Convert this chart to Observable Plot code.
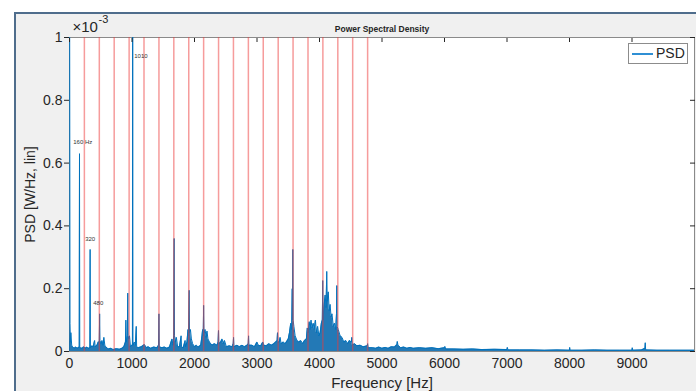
<!DOCTYPE html>
<html><head><meta charset="utf-8">
<script src="https://cdn.jsdelivr.net/npm/d3@7"></script>
<script src="https://cdn.jsdelivr.net/npm/@observablehq/plot@0.6"></script>
<style>
html,body{margin:0;padding:0;background:#fff;}
#wrap{position:relative;width:696px;height:391px;overflow:hidden;}
#bg{position:absolute;left:14px;top:12px;right:0;bottom:0;background:#f0f0f0;border-top:2px solid #4f6d8c;border-left:2px solid #4f6d8c;}
#chart{position:absolute;left:0;top:0;}
#legend{position:absolute;left:628px;top:43px;width:58px;height:19px;background:#fff;border:1px solid #8c8c8c;font:14px "Liberation Sans",Arial,sans-serif;color:#262626;}
#legend .ln{position:absolute;left:3px;top:9px;width:21px;height:2px;background:#2f8fd4;}
#legend .tx{position:absolute;left:27px;top:1px;}
</style>
</head><body>
<div id="wrap"><div id="bg"></div><div id="chart"></div>
<div id="legend"><span class="ln"></span><span class="tx">PSD</span></div></div>
<script>
// Spectrum: [frequency (Hz), PSD (×10^-3 W/Hz)]
const spectrumPoints = [
 [0,1.5],[8,0.09],[15,0.03],[22,0.06],[35,0.02],[50,0.015],[75,0.01],[100,0.014],[125,0.01],[150,0.014],[156,0.012],[160,0.63],[164,0.012],
 [200,0.01],[230,0.015],[250,0.01],[280,0.014],[300,0.01],[326,0.012],[330,0.325],[334,0.012],[360,0.018],[380,0.015],[402,0.035],[410,0.015],
 [440,0.02],[460,0.03],[477,0.03],[482,0.12],[487,0.035],[505,0.025],[520,0.035],[535,0.02],[550,0.045],[565,0.02],[580,0.015],[620,0.008],
 [660,0.01],[700,0.006],[750,0.009],[800,0.007],[840,0.01],[870,0.015],[895,0.03],[902,0.1],[908,0.03],[925,0.05],[932,0.186],[938,0.05],
 [950,0.04],[960,0.05],[975,0.015],[995,0.02],[1007,0.02],[1011,1.5],[1015,0.02],[1040,0.03],[1055,0.02],[1068,0.08],[1074,0.015],
 [1100,0.012],[1150,0.015],[1200,0.022],[1230,0.012],[1260,0.015],[1300,0.01],[1350,0.014],[1400,0.012],[1425,0.02],[1431,0.12],[1437,0.015],
 [1480,0.012],[1520,0.014],[1560,0.01],[1600,0.014],[1640,0.04],[1655,0.02],[1668,0.05],[1674,0.36],[1680,0.05],[1695,0.03],[1710,0.045],[1730,0.015],
 [1760,0.015],[1786,0.05],[1792,0.015],[1820,0.012],[1850,0.035],[1858,0.015],[1880,0.03],[1895,0.07],[1905,0.05],[1914,0.195],[1920,0.06],[1935,0.07],
 [1950,0.04],[1970,0.025],[2000,0.015],[2030,0.02],[2060,0.014],[2100,0.02],[2120,0.05],[2130,0.07],[2140,0.05],[2146,0.147],[2152,0.06],[2170,0.07],
 [2185,0.045],[2200,0.065],[2215,0.04],[2240,0.03],[2280,0.02],[2320,0.025],[2360,0.02],[2378,0.03],[2384,0.067],[2390,0.025],[2420,0.03],
 [2440,0.04],[2460,0.025],[2480,0.035],[2510,0.015],[2560,0.018],[2600,0.015],[2620,0.025],[2625,0.045],[2632,0.015],[2680,0.02],[2720,0.015],
 [2760,0.02],[2800,0.015],[2840,0.02],[2860,0.025],[2865,0.05],[2871,0.02],[2920,0.02],[2960,0.015],[3000,0.03],[3020,0.02],[3060,0.018],
 [3094,0.03],[3110,0.02],[3150,0.018],[3190,0.025],[3230,0.02],[3270,0.025],[3300,0.03],[3322,0.035],[3328,0.06],[3334,0.03],[3355,0.03],
 [3370,0.045],[3385,0.025],[3420,0.03],[3450,0.025],[3470,0.03],[3500,0.04],[3520,0.06],[3540,0.09],[3555,0.07],[3563,0.2],[3568,0.1],[3573,0.325],
 [3578,0.1],[3590,0.08],[3610,0.05],[3640,0.035],[3670,0.03],[3700,0.035],[3730,0.025],[3760,0.035],[3790,0.04],[3805,0.075],[3820,0.06],
 [3835,0.095],[3850,0.07],[3865,0.1],[3880,0.075],[3900,0.09],[3915,0.07],[3935,0.1],[3950,0.06],[3970,0.08],[3990,0.05],[4010,0.06],[4030,0.09],
 [4045,0.1],[4052,0.226],[4058,0.1],[4075,0.15],[4090,0.18],[4105,0.14],[4116,0.255],[4124,0.16],[4140,0.19],[4155,0.13],[4170,0.15],[4185,0.11],
 [4200,0.12],[4220,0.08],[4240,0.09],[4260,0.07],[4272,0.12],[4276,0.21],[4282,0.08],[4300,0.07],[4330,0.05],[4360,0.045],[4390,0.03],[4420,0.035],
 [4450,0.025],[4480,0.035],[4510,0.03],[4516,0.045],[4525,0.02],[4560,0.025],[4600,0.018],[4650,0.02],[4700,0.015],[4765,0.018],[4770,0.025],
 [4780,0.012],[4850,0.012],[4900,0.01],[4950,0.014],[5000,0.01],[5050,0.013],[5100,0.01],[5150,0.015],[5200,0.014],[5240,0.022],[5245,0.032],
 [5255,0.02],[5300,0.012],[5350,0.014],[5400,0.01],[5450,0.013],[5500,0.01],[5600,0.012],[5700,0.01],[5800,0.012],[5900,0.009],[6000,0.012],
 [6006,0.016],[6020,0.008],[6150,0.008],[6300,0.007],[6450,0.008],[6600,0.006],[6800,0.007],[7000,0.006],[7006,0.013],[7015,0.005],[7200,0.005],
 [7400,0.005],[7600,0.004],[7800,0.005],[7998,0.004],[8003,0.013],[8010,0.004],[8200,0.004],[8400,0.005],[8600,0.004],[8800,0.004],[9000,0.004],
 [9005,0.012],[9012,0.004],[9150,0.005],[9208,0.01],[9212,0.028],[9218,0.005],[9400,0.004],[9600,0.004],[9800,0.004],[10000,0.004]
];
// Harmonic marker lines (Hz)
const harmonicsHz = [238,477,715,954,1192,1431,1669,1908,2146,2385,2623,2862,3100,3339,3577,3816,4054,4293,4531,4770];
// Peak annotations
const peakLabels = ["160 Hz","320","480","1010"];
const peakLabelHz = [60,250,380,1036];
const peakLabelPsd = [0.668,0.357,0.153,0.94];
// Axis ticks
const xTicks = [0,1000,2000,3000,4000,5000,6000,7000,8000,9000];
const yTicks = [0,0.2,0.4,0.6,0.8,1];

const spectrum = spectrumPoints.map(([f,p])=>({f, p}));
const peaks = peakLabels.map((t,i)=>({t, f: peakLabelHz[i], p: peakLabelPsd[i]}));
const font = '"Liberation Sans", Arial, sans-serif';

const chart = Plot.plot({
  width:696, height:391,
  marginLeft:69, marginRight:2, marginTop:37, marginBottom:40,
  style:{background:"transparent", fontFamily:font, color:"#262626", overflow:"visible"},
  x:{domain:[0,10000]},
  y:{domain:[0,1]},
  marks:[
    Plot.frame({fill:"white", stroke:"#8a8a8a"}),
    Plot.areaY(spectrum,{x:"f", y:"p", fill:"#0b6aae", fillOpacity:0.9, clip:true}),
    Plot.lineY(spectrum,{x:"f", y:"p", stroke:"#0072BD", strokeWidth:1, clip:true}),
    Plot.ruleX(harmonicsHz,{x:d=>d, stroke:"#ee3a3a", strokeOpacity:0.5, strokeWidth:1.5}),
    Plot.text(peaks,{x:"f", y:"p", text:"t", fontSize:6, textAnchor:"start", fill:"#333"}),
    Plot.axisX({ticks:xTicks, tickSize:0, tickPadding:7, fontSize:14, label:null, tickFormat:d=>String(d)}),
    Plot.axisX({anchor:"top", ticks:xTicks, tickSize:-4, tickFormat:()=>"", label:null}),
    Plot.axisY({ticks:yTicks, tickSize:5, tickPadding:2, fontSize:14, label:null, tickFormat:d=>String(d)}),
    Plot.axisY({anchor:"right", ticks:yTicks, tickSize:-5, tickFormat:()=>"", label:null}),
    Plot.text(["Frequency [Hz]"],{frameAnchor:"bottom", lineAnchor:"middle", dy:32, fontSize:15, fill:"#262626"}),
    Plot.text(["PSD [W/Hz, lin]"],{frameAnchor:"left", textAnchor:"middle", lineAnchor:"middle", dx:-39, rotate:-90, fontSize:14, fill:"#262626"}),
    Plot.text(["Power Spectral Density"],{frameAnchor:"top", lineAnchor:"middle", dy:-8, fontSize:8.5, fontWeight:"bold", fill:"#262626"}),
    Plot.text(["×10"],{frameAnchor:"top-left", textAnchor:"start", lineAnchor:"middle", dx:3, dy:-10, fontSize:15, fill:"#262626"}),
    Plot.text(["-3"],{frameAnchor:"top-left", textAnchor:"start", lineAnchor:"middle", dx:29, dy:-18, fontSize:11, fill:"#262626"})
  ]
});
document.getElementById("chart").appendChild(chart);
</script>
</body></html>
